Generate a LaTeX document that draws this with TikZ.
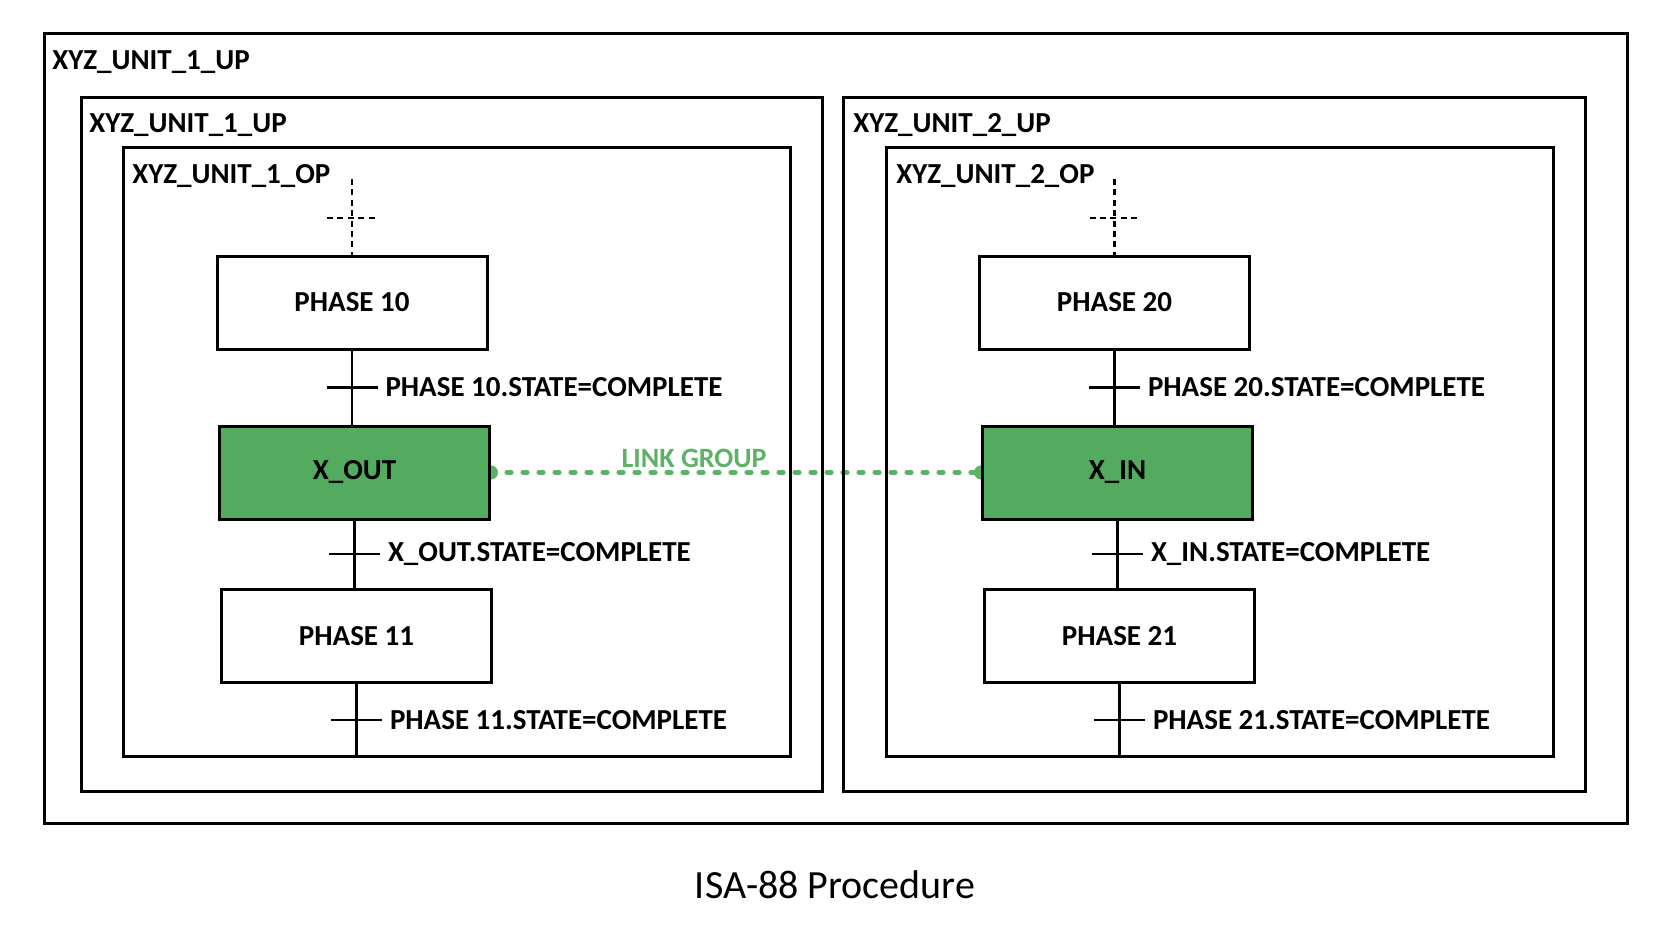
\documentclass[tikz,border=0pt]{standalone}
\usepackage{fontspec}
\setmainfont{Carlito}
\usetikzlibrary{positioning,backgrounds}
\definecolor{phasegreen}{RGB}{82,171,94}
\definecolor{linkgreen}{RGB}{92,178,102}
\tikzset{
  frame/.style={draw, line width=1.5pt},
  framelabel/.style={anchor=base west, inner sep=0pt},
  phase/.style={draw, line width=1.5pt, minimum width=135pt, minimum height=46.5pt},
  linkphase/.style={phase, fill=phasegreen},
  flow/.style={line width=1.2pt},
  entry/.style={line width=1.4pt, dash pattern=on 3pt off 2.2pt},
  cond/.style={inner sep=0pt, anchor=west},
  link/.style={linkgreen, line width=2.6pt, line cap=round, dash pattern=on 2pt off 6pt},
}
\begin{document}
\begin{tikzpicture}[x=0.5pt, y=-0.5pt, font=\bfseries\fontsize{14.5}{17}\selectfont]
	\useasboundingbox (0,0) rectangle (1668,926);
	
	% frames
	\draw[frame] (44,33) rectangle (1627,823);
	\draw[frame] (81,97) rectangle (822,791);
	\draw[frame] (123,147) rectangle (790,756);
	\draw[frame] (843,97) rectangle (1585,791);
	\draw[frame] (886,147) rectangle (1553,756);
	\node[framelabel] (procup) at (52,69) {XYZ\_UNIT\_1\_UP};
	\node[framelabel] (unit1up) at (89,132) {XYZ\_UNIT\_1\_UP};
	\node[framelabel] (unit1op) at (132,183) {XYZ\_UNIT\_1\_OP};
	\node[framelabel] (unit2up) at (853,132) {XYZ\_UNIT\_2\_UP};
	\node[framelabel] (unit2op) at (896,183) {XYZ\_UNIT\_2\_OP};
	
	% unit 1
	\node[phase] (p10) at (352,302.5) {PHASE 10};
	\node[linkphase] (xout) at (354.5,472.5) {X\_OUT};
	\node[phase] (p11) at (356.5,636) {PHASE 11};
	\coordinate (in1) at (352,179);
	\coordinate (end1) at (356.5,756);
	\draw[entry] (in1) -- (p10.north);
	\draw[entry] (327,218) -- (378,218);
	\draw[flow] (p10.south) -- (p10.south |- xout.north) coordinate[midway] (t10);
	\draw[flow] (xout.south) -- (xout.south |- p11.north) coordinate[midway] (tout);
	\draw[flow] (p11.south) -- (end1) coordinate[midway] (t11);
	
	% unit 2
	\node[phase] (p20) at (1114.5,302.5) {PHASE 20};
	\node[linkphase] (xin) at (1117.5,472.5) {X\_IN};
	\node[phase] (p21) at (1119.5,636) {PHASE 21};
	\coordinate (in2) at (1114.5,179);
	\coordinate (end2) at (1119.5,756);
	\draw[entry] (in2) -- (p20.north);
	\draw[entry] (1089.5,218) -- (1140.5,218);
	\draw[flow] (p20.south) -- (p20.south |- xin.north) coordinate[midway] (t20);
	\draw[flow] (xin.south) -- (xin.south |- p21.north) coordinate[midway] (tin);
	\draw[flow] (p21.south) -- (end2) coordinate[midway] (t21);
	
	% transitions
	\foreach \t/\txt in {t10/PHASE 10.STATE=COMPLETE, tout/X\_OUT.STATE=COMPLETE, t11/PHASE 11.STATE=COMPLETE,
	                     t20/PHASE 20.STATE=COMPLETE, tin/X\_IN.STATE=COMPLETE, t21/PHASE 21.STATE=COMPLETE} {
		\draw[flow] ([xshift=-12.75pt]\t) -- ([xshift=12.75pt]\t) coordinate (\t e);
		\node[cond, right=3.8pt of \t e] (c\t) {\txt};
	}
	
	% link group
	\begin{scope}[on background layer]
		\draw[link] (xout.east) -- (xin.west);
		\fill[linkgreen] (xout.east) circle (3.5pt);
		\fill[linkgreen] (xin.west) circle (3.5pt);
	\end{scope}
	\node[linkgreen, anchor=base, inner sep=0pt, font=\bfseries\fontsize{14}{16}\selectfont] (lg) at (694,467) {LINK GROUP};
	
	\node[font=\fontsize{20}{24}\selectfont] (caption) at (835,885) {ISA-88 Procedure};
\end{tikzpicture}
\end{document}
